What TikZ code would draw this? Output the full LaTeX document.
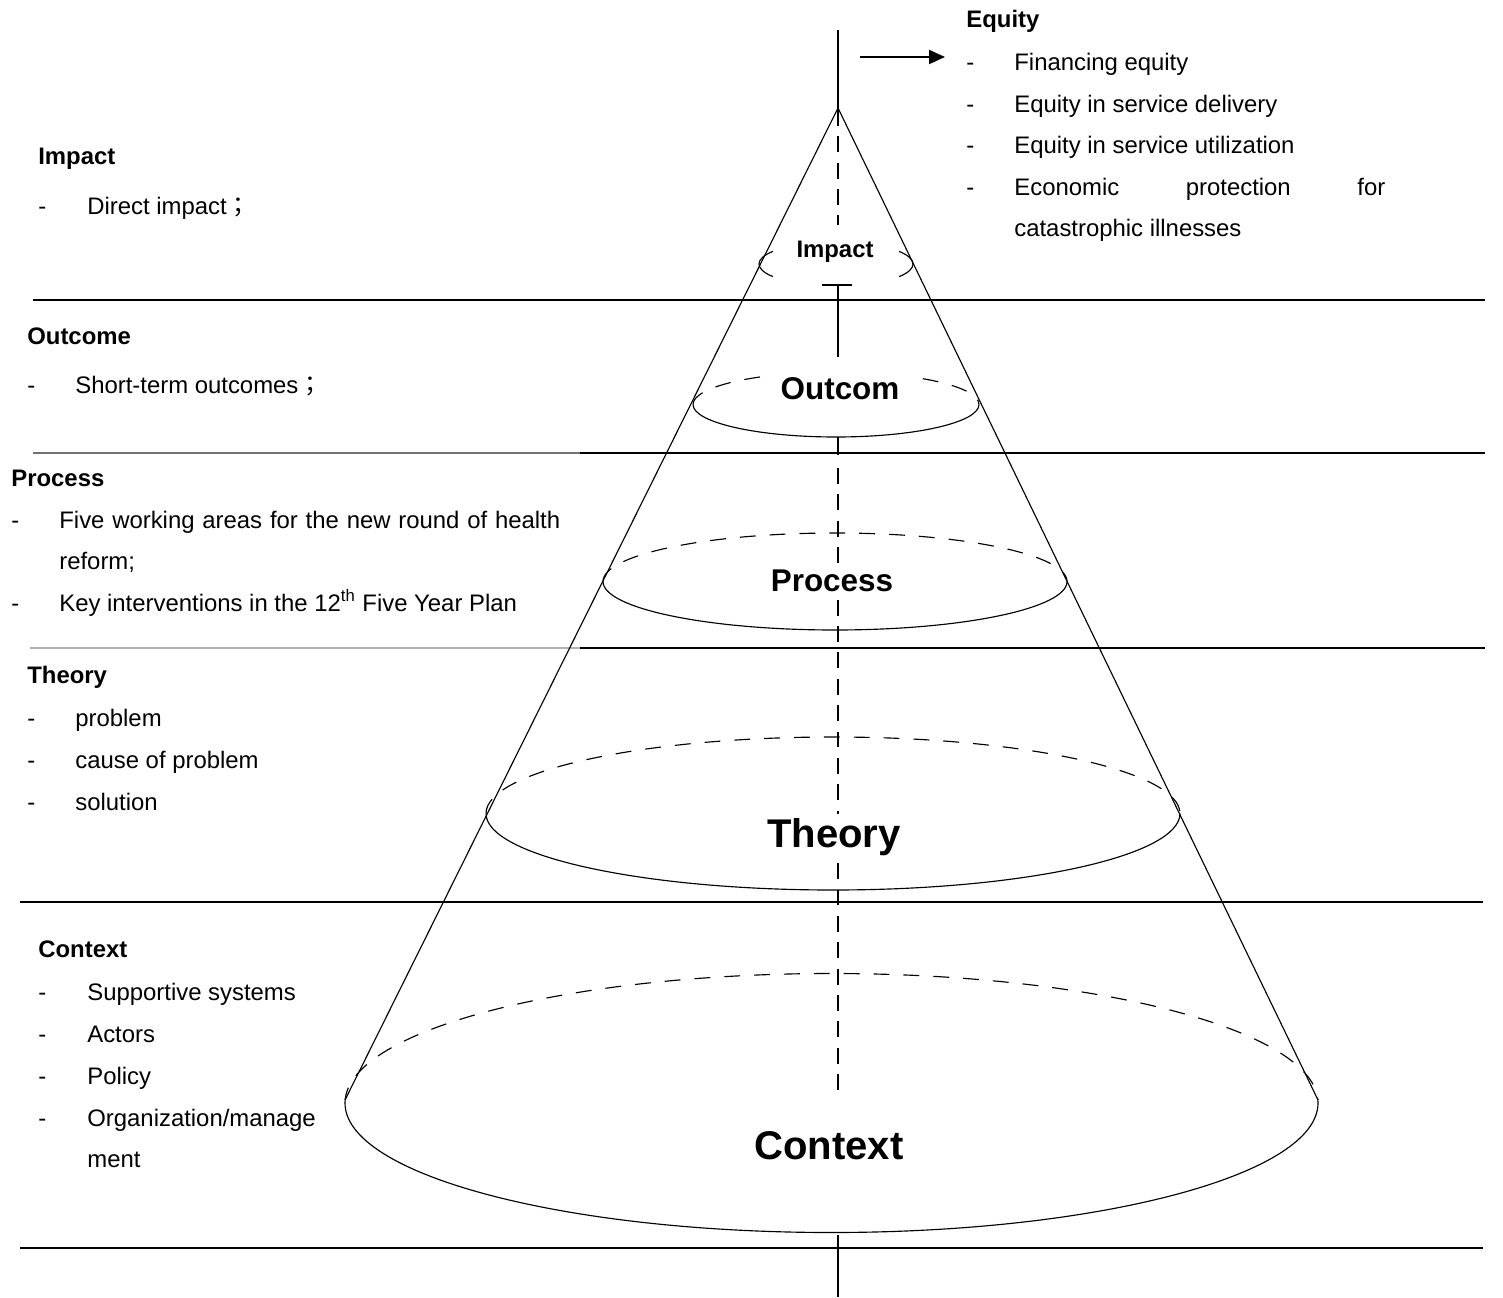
\documentclass[tikz,border=0pt]{standalone}
\usepackage{fontspec}
\setmainfont{Liberation Sans}
\newfontfamily\cjk{Noto Sans CJK TC}
\usetikzlibrary{arrows.meta}

\begin{document}
\begin{tikzpicture}[x=0.02cm,y=-0.02cm,
	txt/.style={anchor=base west,inner sep=0pt,font=\fontsize{13.6}{16}\selectfont},
	head/.style={txt,font=\fontsize{13.6}{16}\selectfont\bfseries},
	lvl/.style={anchor=base,inner sep=0pt,font=\fontsize{17.9}{21}\selectfont\bfseries},
	biglvl/.style={anchor=base,inner sep=0pt,font=\fontsize{22.8}{27}\selectfont\bfseries},
	band/.style={line width=1.1pt},
	cone/.style={line width=0.65pt},
	back/.style={cone,dash pattern=on 9pt off 8pt},
	axis/.style={line width=0.8pt},
	arr/.style={line width=1.1pt,-{Triangle[length=0.32cm,width=0.28cm]}}]

	\useasboundingbox (0,0) rectangle (1503,1297);

	% bands
	\draw[band] (33,300) -- (1485,300);
	\draw[band,black!55] (33,453) -- (580,453);
	\draw[band] (580,453) -- (1485,453);
	\draw[band,black!30] (30,648) -- (580,648);
	\draw[band] (580,648) -- (1485,648);
	\draw[band] (20,902) -- (1483,902);
	\draw[band] (20,1248) -- (1483,1248);

	% cone
	\draw[cone] (345,1100) -- (838,108) -- (1318,1100);

	\draw[cone] (772.9,276.6) arc[start angle=145,end angle=215,x radius=77,y radius=22];
	\draw[cone] (899.1,251.4) arc[start angle=-35,end angle=35,x radius=77,y radius=22];

	\draw[back] (693,404.5) arc[start angle=180,end angle=360,x radius=143,y radius=32.5];
	\draw[cone] (979,404.5) arc[start angle=0,end angle=180,x radius=143,y radius=32.5];

	\draw[back] (603,581.5) arc[start angle=180,end angle=360,x radius=232,y radius=48.5];
	\draw[cone] (1067,581.5) arc[start angle=0,end angle=180,x radius=232,y radius=48.5];

	\draw[back] (486,813.5) arc[start angle=180,end angle=360,x radius=347,y radius=76.5];
	\draw[cone] (1180,813.5) arc[start angle=0,end angle=180,x radius=347,y radius=76.5];

	\draw[back] (345,1103) arc[start angle=180,end angle=360,x radius=486.5,y radius=129.5];
	\draw[cone] (1318,1103) arc[start angle=0,end angle=180,x radius=486.5,y radius=129.5];

	% axis
	\draw[axis] (838,30) -- (838,108);
	\draw[axis,dash pattern=on 9pt off 6pt] (838,110) -- (838,225);
	\draw[axis] (822,285) -- (852,285);
	\draw[axis] (838,285) -- (838,357);
	\draw[axis] (838,437) -- (838,455);
	\draw[axis,dash pattern=on 9pt off 6pt] (838,468) -- (838,1100);
	\draw[axis] (838,1235) -- (838,1297);

	% levels in the cone
	\node (lImpact) at (835,258) [anchor=base,inner sep=0pt,font=\fontsize{13.6}{16}\selectfont\bfseries] {Impact};
	\node (lOutcome) at (840,399) [lvl,fill=white,inner xsep=6pt,inner ysep=6pt] {Outcom};
	\node (lProcess) at (832,591) [lvl,fill=white,inner sep=2pt] {Process};
	\node (lTheory) at (834,847) [biglvl,fill=white,inner sep=2pt] {Theory};
	\node (lContext) at (829,1159) [biglvl,fill=white,inner sep=2pt] {Context};

	% equity
	\coordinate (arrTail) at (860,57);
	\coordinate (arrHead) at (945,57);
	\draw[arr] (arrTail) -- (arrHead);

	\node (eqH) at (966,28) [head] {Equity};
	\node (eqD1) at (966,71) [txt] {-};
	\node (eqT1) at (1014,71) [txt] {Financing equity};
	\node (eqD2) at (966,113) [txt] {-};
	\node (eqT2) at (1014,113) [txt] {Equity in service delivery};
	\node (eqD3) at (966,154) [txt] {-};
	\node (eqT3) at (1014,154) [txt] {Equity in service utilization};
	\node (eqD4) at (966,196) [txt] {-};
	\node (eqT4) at (1014,196) [txt] {\makebox[7.42cm][s]{Economic protection for}};
	\node (eqT5) at (1014,237) [txt] {catastrophic illnesses};

	% impact
	\node (imH) at (38,165) [head] {Impact};
	\node (imD1) at (38,215) [txt] {-};
	\node (imT1) at (87,215) [txt] {Direct impact{\cjk ；}};

	% outcome
	\node (ouH) at (27,344) [head] {Outcome};
	\node (ouD1) at (27,393) [txt] {-};
	\node (ouT1) at (75,393) [txt] {Short-term outcomes{\cjk ；}};

	% process
	\node (prH) at (11,486) [head] {Process};
	\node (prD1) at (11,528) [txt] {-};
	\node (prT1) at (59,528) [txt] {\makebox[10.02cm][s]{Five working areas for the new round of health}};
	\node (prT2) at (59,569) [txt] {reform;};
	\node (prD2) at (11,611) [txt] {-};
	\node (prT3) at (59,611) [txt] {Key interventions in the 12\textsuperscript{th} Five Year Plan};

	% theory
	\node (thH) at (27,683) [head] {Theory};
	\node (thD1) at (27,726) [txt] {-};
	\node (thT1) at (75,726) [txt] {problem};
	\node (thD2) at (27,768) [txt] {-};
	\node (thT2) at (75,768) [txt] {cause of problem};
	\node (thD3) at (27,810) [txt] {-};
	\node (thT3) at (75,810) [txt] {solution};

	% context
	\node (coH) at (38,957) [head] {Context};
	\node (coD1) at (38,1000) [txt] {-};
	\node (coT1) at (87,1000) [txt] {Supportive systems};
	\node (coD2) at (38,1042) [txt] {-};
	\node (coT2) at (87,1042) [txt] {Actors};
	\node (coD3) at (38,1084) [txt] {-};
	\node (coT3) at (87,1084) [txt] {Policy};
	\node (coD4) at (38,1126) [txt] {-};
	\node (coT4) at (87,1126) [txt] {Organization/manage};
	\node (coT5) at (87,1167) [txt] {ment};

\end{tikzpicture}
\end{document}
